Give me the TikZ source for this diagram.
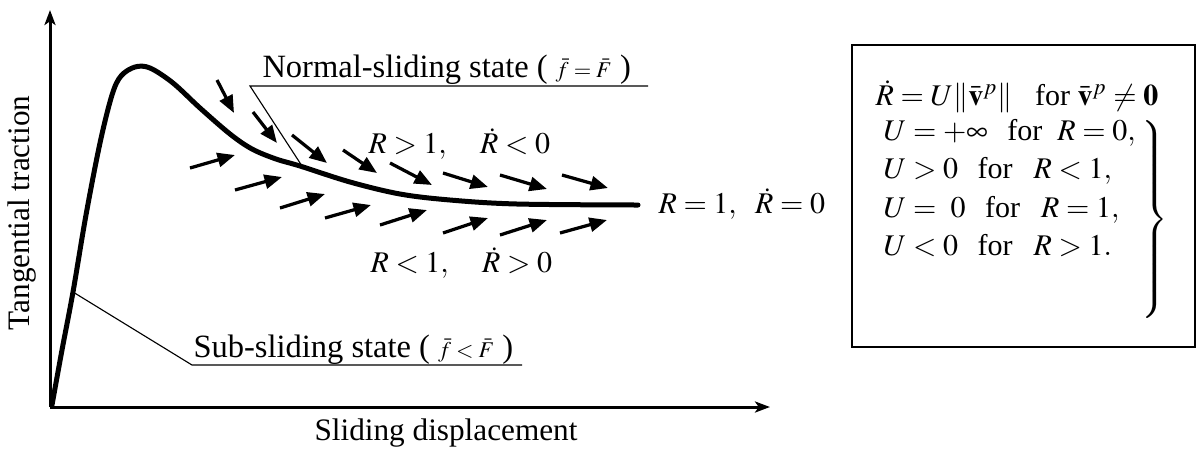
\documentclass[tikz,border=0pt]{standalone}
\usepackage{mathptmx}
\usepackage{fontspec}
\setmainfont{Liberation Serif}
\usepackage{tikz}
\usetikzlibrary{arrows.meta, positioning, calc}

\begin{document}
\begin{tikzpicture}[
      x=0.4pt, y=-0.4pt,
      axis/.style={line width=1.2pt, -{Stealth[length=6pt, width=4.4pt, inset=1.5pt]}},
      curve/.style={line width=2pt, line cap=round},
      flow/.style={line width=1.3pt, -{Triangle[length=7pt, width=5.6pt]}},
      leader/.style={line width=0.45pt},
      lbl/.style={font=\fontsize{13}{15}\selectfont, inner sep=0pt, anchor=base west},
      ax/.style={font=\fontsize{12.5}{15}\selectfont, inner sep=0pt},
      eq/.style={font=\fontsize{12}{14}\selectfont, inner sep=0pt, anchor=base west}
    ]
      \useasboundingbox (0,0) rectangle (1197,455);
      \def\gapa{\hspace{0.65em}}
      \def\gapb{\hspace{0.7em}}

      % axes
      \coordinate (O) at (50,407);
      \coordinate (ytip) at (50,10);
      \coordinate (xtip) at (770,407);
      \draw[axis] (O) -- (ytip);
      \draw[axis] (O) -- (xtip);
      \node[ax, rotate=90] (ylab) at (22,213) {Tangential traction};
      \node[ax, anchor=base] (xlab) at (446,440) {Sliding displacement};

      % traction curve
      \draw[curve] plot[smooth, tension=0.55] coordinates {
        (52,405) (62,350) (73,292) (86,215) (100,143) (112,95) (121,76) (135,67)
        (150,68) (173,83) (200,108) (230,134) (252,149) (276,159) (300,166)
        (350,182) (400,194) (450,200) (517,204) (638,205)};

      % leaders
      \coordinate (subfoot) at (73,292);
      \coordinate (subl) at (192,365);
      \coordinate (subr) at (522,365);
      \draw[leader] (subfoot) -- (subl) -- (subr);
      \node[lbl] (sub) at (193,357) {Sub-sliding state ( {\small$\bar{f}<\bar{F}$} )};

      \coordinate (normfoot) at (302,166);
      \coordinate (norml) at (250,86);
      \coordinate (normr) at (648,86);
      \draw[leader] (normfoot) -- (norml) -- (normr);
      \node[lbl] (norm) at (262,77) {Normal-sliding state ( {\small$\bar{f}=\bar{F}$} )};

      % flow above the curve
      \draw[flow] (217,80) -- (234,113);
      \draw[flow] (253,112) -- (277,143);
      \draw[flow] (292,135) -- (327,163);
      \draw[flow] (343,150) -- (377,173);
      \draw[flow] (390,163) -- (432,185);
      \draw[flow] (443,173) -- (488,187);
      \draw[flow] (500,175) -- (547,189);
      \draw[flow] (562,175) -- (608,188);

      % flow below the curve
      \draw[flow] (190,168) -- (235,155);
      \draw[flow] (235,190) -- (282,177);
      \draw[flow] (280,208) -- (325,194);
      \draw[flow] (325,218) -- (371,205);
      \draw[flow] (380,225) -- (427,210);
      \draw[flow] (443,233) -- (488,218);
      \draw[flow] (500,235) -- (547,220);
      \draw[flow] (560,233) -- (607,220);

      \node[eq] (above) at (368,153) {$R>1,\quad \dot{R}<0$};
      \node[eq] (below) at (370,272) {$R<1,\quad \dot{R}>0$};
      \node[eq] (limit) at (658,213) {$R=1,\enspace \dot{R}=0$};

      % evolution law
      \draw[line width=0.8pt] (852,45) rectangle (1195,347);
      \node[eq] (rate) at (875,105) {$\dot{R}=U\|\bar{\mathbf{v}}^{p}\|$\ \ \ for $\bar{\mathbf{v}}^{p}\neq\mathbf{0}$};
      \node[eq] (c0) at (883,140) {$U=+\infty$\gapa for\ \ $R=0,$};
      \node[eq] (c1) at (883,178) {$U>0$\gapa for\gapb$R<1,$};
      \node[eq] (c2) at (883,217) {$U=\ 0$\gapa for\gapb$R=1,$};
      \node[eq] (c3) at (883,255) {$U<0$\gapa for\gapb$R>1.$};
      \node[eq, anchor=center] (brace) at (1153,220) {$\left.\rule[-37pt]{0pt}{74pt}\right\}$};
    \end{tikzpicture}
\end{document}
